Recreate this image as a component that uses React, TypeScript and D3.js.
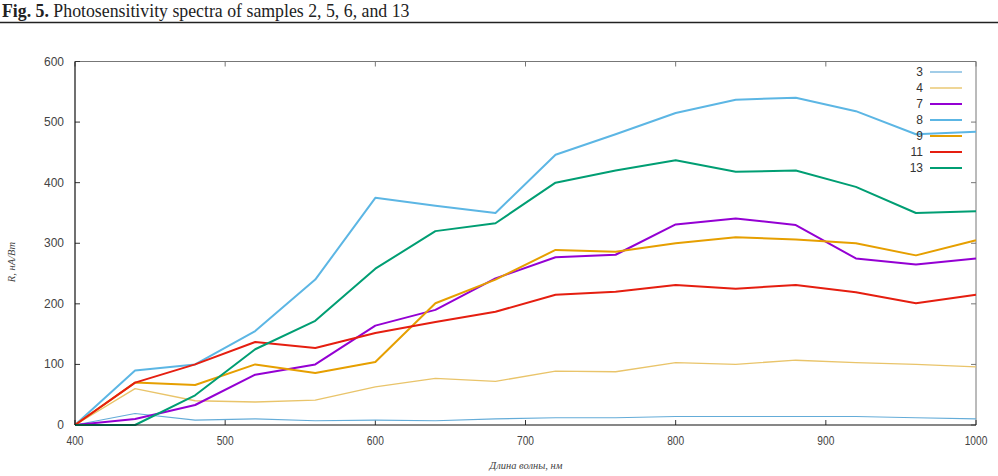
import React from "react";
import * as d3 from "d3";

const wavelengths = [400, 440, 480, 520, 560, 600, 640, 680, 720, 760, 800, 840, 880, 920, 960, 1000];
const s3 = [0, 19, 8, 10, 7, 8, 7, 10, 12, 12, 14, 14, 14, 14, 12, 10];
const s4 = [0, 60, 40, 38, 41, 63, 77, 72, 89, 88, 103, 100, 107, 103, 100, 96];
const s7 = [0, 10, 33, 83, 100, 164, 190, 242, 277, 281, 331, 341, 330, 275, 265, 275];
const s8 = [0, 90, 100, 155, 240, 375, 362, 350, 446, 480, 515, 537, 540, 518, 480, 484];
const s9 = [0, 70, 66, 100, 86, 104, 201, 240, 289, 286, 300, 310, 306, 300, 280, 305];
const s11 = [0, 70, 100, 137, 127, 152, 170, 187, 215, 220, 231, 225, 231, 219, 201, 215];
const s13 = [0, 0, 49, 125, 172, 258, 320, 333, 400, 420, 437, 418, 420, 393, 350, 353];
const seriesNames = ["3", "4", "7", "8", "9", "11", "13"];
const seriesValues = [s3, s4, s7, s8, s9, s11, s13];
const seriesColors = ["#64acd8", "#e9c46a", "#9400d3", "#5cb6e4", "#e69f00", "#e51e10", "#009e73"];
const seriesWidths = [1.2, 1.4, 2, 2, 2, 2, 2];
const xTicks = [400, 500, 600, 700, 800, 900, 1000];
const yTicks = [0, 100, 200, 300, 400, 500, 600];

export default function App() {
  const W = 998, H = 476;
  const x = d3.scaleLinear().domain([400, 1000]).range([75, 976]);
  const y = d3.scaleLinear().domain([0, 600]).range([425, 61.5]);
  const line = d3
    .line<number>()
    .x((_, i) => x(wavelengths[i]))
    .y((d) => y(d));
  const font = "'Liberation Sans', Arial, sans-serif";
  return (
    <svg width={W} height={H} style={{ position: "absolute", left: 0, top: 0, background: "#fff" }}>
      <rect x={0} y={0} width={W} height={H} fill="#fff" />
      <text x={2} y={17} fontFamily="'Liberation Serif', 'DejaVu Serif', serif" fontSize={17.8} fill="#222">
        <tspan fontWeight="bold">Fig. 5.</tspan> Photosensitivity spectra of samples 2, 5, 6, and 13
      </text>
      <line x1={0} x2={W} y1={22.5} y2={22.5} stroke="#222" strokeWidth={1.5} />
      {/* frame */}
      <line x1={x(400)} x2={x(1000)} y1={y(600)} y2={y(600)} stroke="#777" strokeWidth={1} />
      <line x1={x(1000)} x2={x(1000)} y1={y(600)} y2={y(0)} stroke="#777" strokeWidth={1} />
      {yTicks.map((t) => (
        <g key={"y" + t}>
          <line x1={x(400)} x2={x(400) + 5} y1={y(t)} y2={y(t)} stroke="#333" />
          <line x1={x(1000)} x2={x(1000) - 5} y1={y(t)} y2={y(t)} stroke="#777" />
          <text x={64} y={y(t) + 4} textAnchor="end" fontFamily={font} fontSize={12} fill="#444">
            {t}
          </text>
        </g>
      ))}
      {xTicks.map((t) => (
        <g key={"x" + t}>
          <line x1={x(t)} x2={x(t)} y1={y(0)} y2={y(0) - 5} stroke="#333" />
          <line x1={x(t)} x2={x(t)} y1={y(600)} y2={y(600) + 5} stroke="#777" />
          <text x={x(t)} y={445} textAnchor="middle" fontFamily={font} fontSize={12} fill="#444" transform={`translate(${x(t)},0) scale(0.85,1) translate(${-x(t)},0)`}>
            {t}
          </text>
        </g>
      ))}
      {seriesValues.map((vals, k) => (
        <path
          key={"s" + k}
          d={line(vals) || ""}
          fill="none"
          stroke={seriesColors[k]}
          strokeWidth={seriesWidths[k]}
          strokeLinejoin="round"
        />
      ))}
      <line x1={x(400)} x2={x(400)} y1={y(600)} y2={y(0)} stroke="#111" strokeWidth={1.2} />
      <line x1={x(400)} x2={x(1000)} y1={y(0)} y2={y(0)} stroke="#111" strokeWidth={1.2} />
      {/* legend */}
      {seriesNames.map((n, k) => (
        <g key={"l" + n}>
          <text x={923} y={72 + k * 16 + 4} textAnchor="end" fontFamily={font} fontSize={12} fill="#333">
            {n}
          </text>
          <line x1={930} x2={962} y1={72 + k * 16} y2={72 + k * 16} stroke={seriesColors[k]} strokeWidth={seriesWidths[k]} />
        </g>
      ))}
      <text x={526} y={469} textAnchor="middle" fontFamily="'Liberation Serif', serif" fontStyle="italic" fontSize={10.5} fill="#444">
        Длина волны, нм
      </text>
      <text
        transform={`translate(15,262) rotate(-90)`}
        textAnchor="middle"
        fontFamily="'Liberation Serif', serif"
        fontStyle="italic"
        fontSize={10.5}
        fill="#444"
      >
        R, нА/Вт
      </text>
    </svg>
  );
}
